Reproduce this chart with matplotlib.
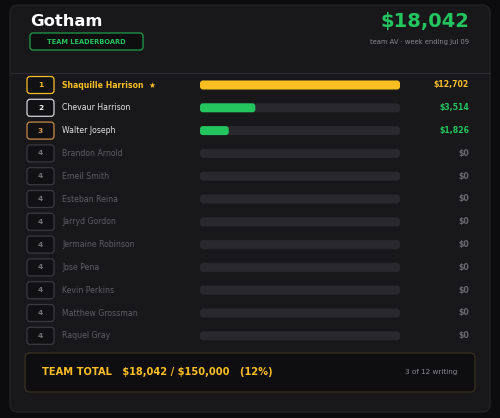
import matplotlib.pyplot as plt
from matplotlib.patches import FancyBboxPatch

plt.rcParams['font.family'] = ['DejaVu Sans']
plt.rcParams['text.parse_math'] = False

# data
team = "Gotham"
week = "Jul 09"
names = ["Shaquille Harrison", "Chevaur Harrison", "Walter Joseph", "Brandon Arnold",
         "Emeil Smith", "Esteban Reina", "Jarryd Gordon", "Jermaine Robinson",
         "Jose Pena", "Kevin Perkins", "Matthew Grossman", "Raquel Gray"]
values = [12702, 3514, 1826, 0, 0, 0, 0, 0, 0, 0, 0, 0]
ranks = [1, 2, 3, 4, 4, 4, 4, 4, 4, 4, 4, 4]
goal = 150000

GOLD = "#fbbf24"
GREEN = "#22c55e"
BG = "#0c0c0e"
CARD = "#18181b"
TRACK = "#29292d"
DIM = "#5e5e64"

total = sum(values)
writing = sum(1 for v in values if v > 0)


def rbox(ax, x, y, w, h, r, fc, ec, lw=1.0, z=1):
    p = FancyBboxPatch((x + r, y + r), w - 2 * r, h - 2 * r,
                       boxstyle="round,pad=%g" % r, fc=fc, ec=ec, lw=lw, zorder=z)
    ax.add_patch(p)


fig = plt.figure(figsize=(5, 4.18), dpi=100)
fig.patch.set_facecolor(BG)
ax = fig.add_axes([0, 0, 1, 1])
ax.set_xlim(0, 500)
ax.set_ylim(418, 0)
ax.axis("off")

# card
rbox(ax, 10, 5, 480, 407, 8, CARD, "#27272a", 0.8)

# header
ax.text(30, 22, team, color="white", fontsize=11.8, fontweight="bold", va="center", ha="left")
rbox(ax, 30, 33, 113, 17, 3, "#0e0e10", "#1f9d4c", 0.9, 2)
ax.text(86.5, 41.5, "TEAM LEADERBOARD", color=GREEN, fontsize=4.8, fontweight="bold",
        ha="center", va="center", zorder=3)
ax.text(469, 21, "${:,}".format(total), color=GREEN, fontsize=14, fontweight="bold",
        ha="right", va="center")
ax.text(469, 42, "team AV \u00b7 week ending " + week, color="#8a8a90", fontsize=4.9,
        ha="right", va="center")
ax.plot([10, 490], [73, 73], color="#2c2c30", lw=0.8)

# rows
top = max(values)
row0, step = 85, 22.8
bar_x, bar_w, bar_h = 200, 200, 9
rank_style = {1: (GOLD, GOLD), 2: ("#d4d4d8", "#f4f4f5"), 3: ("#c98a4b", "#d99a58")}
for i, (n, v, r) in enumerate(zip(names, values, ranks)):
    y = row0 + i * step
    ec, tc = rank_style.get(r, ("#3a3a3f", "#707076"))
    rbox(ax, 27, y - 8.5, 27, 17, 3, "#111113", ec, 0.9, 2)
    ax.text(40.5, y, str(r), color=tc, fontsize=5.4, fontweight="bold",
            ha="center", va="center", zorder=3)
    if r == 1:
        ax.text(62, y, n + "  \u2605", color=GOLD, fontsize=5.6, fontweight="bold", va="center")
        vc = GOLD
    elif v > 0:
        ax.text(62, y, n, color="#e4e4e7", fontsize=5.6, va="center")
        vc = GREEN
    else:
        ax.text(62, y, n, color=DIM, fontsize=5.6, va="center")
        vc = "#6a6a70"
    rbox(ax, bar_x, y - bar_h / 2, bar_w, bar_h, 3, TRACK, "none", 0, 2)
    if v > 0:
        w = bar_w * v / top
        rbox(ax, bar_x, y - bar_h / 2, w, bar_h, 3, GOLD if r == 1 else GREEN, "none", 0, 3)
    ax.text(469, y, "${:,}".format(v), color=vc, fontsize=5.6, fontweight="bold",
            ha="right", va="center")

# footer
rbox(ax, 25, 353, 450, 39, 5, "#0e0e10", "#3a3220", 0.9, 2)
ax.text(42, 372, "TEAM TOTAL   ${:,} / ${:,}   ({:.0f}%)".format(total, goal, 100 * total / goal),
        color=GOLD, fontsize=7.1, fontweight="bold", va="center", zorder=3)
ax.text(457, 372, "{} of {} writing".format(writing, len(names)), color="#8a8a90",
        fontsize=5.2, ha="right", va="center", zorder=3)

fig.savefig("out.png", dpi=100, facecolor=BG)
